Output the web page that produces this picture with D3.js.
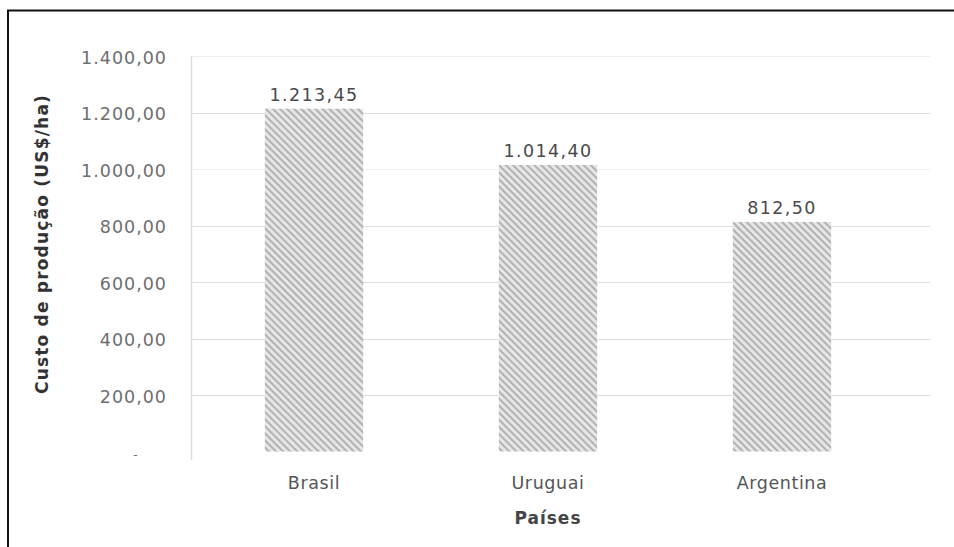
<!DOCTYPE html>
<html>
<head>
<meta charset="utf-8">
<script src="https://cdn.jsdelivr.net/npm/d3@7"></script>
<style>
  html, body { margin: 0; padding: 0; background: #fff; }
  svg { display: block; }
</style>
</head>
<body>
<svg id="chart" width="954" height="547"></svg>
<script>
// Custo de produção por país (US$/ha)
const paises = ["Brasil", "Uruguai", "Argentina"];
const custos = [1213.45, 1014.40, 812.50];
const rotulos = ["1.213,45", "1.014,40", "812,50"];
const yTicks = [0, 200, 400, 600, 800, 1000, 1200, 1400];
const yTickLabels = ["-", "200,00", "400,00", "600,00", "800,00", "1.000,00", "1.200,00", "1.400,00"];

const svg = d3.select("#chart");
const font = "'DejaVu Sans', Verdana, sans-serif";

// Frame around the figure
svg.append("rect")
  .attr("x", 8).attr("y", 10.5)
  .attr("width", 1000).attr("height", 600)
  .attr("fill", "none").attr("stroke", "#111").attr("stroke-width", 2);

// Diagonal hatch used for the bars
const defs = svg.append("defs");
const pat = defs.append("pattern")
  .attr("id", "hatch")
  .attr("patternUnits", "userSpaceOnUse")
  .attr("width", 5).attr("height", 5)
  .attr("patternTransform", "rotate(-45)");
pat.append("rect").attr("width", 5).attr("height", 5).attr("fill", "#e6e6e6");
pat.append("rect").attr("x", 0).attr("y", 0).attr("width", 2).attr("height", 5).attr("fill", "#b2b2b2");

const y = d3.scaleLinear().domain([0, 1400]).range([451.5, 56]);
const x = d3.scaleBand().domain(paises).range([197, 899]).paddingInner(0.58).paddingOuter(0.29);

const gridLeft = 191, gridRight = 930;

// Horizontal gridlines
svg.append("g")
  .selectAll("line")
  .data(yTicks.filter(d => d > 0))
  .join("line")
  .attr("x1", gridLeft).attr("x2", gridRight)
  .attr("y1", d => Math.round(y(d)) + 0.5).attr("y2", d => Math.round(y(d)) + 0.5)
  .attr("stroke", d => (d === 1000 || d === 1400) ? "#efefef" : "#dedede")
  .attr("stroke-width", 1.2);

// Vertical axis line
svg.append("line")
  .attr("x1", gridLeft + 0.5).attr("x2", gridLeft + 0.5)
  .attr("y1", 56).attr("y2", 460)
  .attr("stroke", "#dedede").attr("stroke-width", 1.5);

// Y tick labels
const yAxis = d3.axisLeft(y)
  .tickValues(yTicks)
  .tickFormat((d, i) => yTickLabels[i])
  .tickSize(0).tickPadding(0);
const gy = svg.append("g").attr("transform", "translate(167,0)").call(yAxis);
gy.select(".domain").remove();
gy.selectAll("text")
  .attr("font-family", font).attr("font-size", 17.5)
  .attr("letter-spacing", 1)
  .attr("fill", "#6e6e6e")
  .attr("dy", "0.42em");
gy.selectAll(".tick").filter(d => d === 0).select("text")
  .attr("text-anchor", "middle").attr("x", -31).attr("dy", "0.55em").attr("font-size", 12);

// Bars
svg.append("g")
  .selectAll("rect")
  .data(paises)
  .join("rect")
  .attr("x", d => x(d))
  .attr("width", x.bandwidth())
  .attr("y", (d, i) => y(custos[i]))
  .attr("height", (d, i) => y(0) - y(custos[i]))
  .attr("fill", "url(#hatch)");

// Value labels above bars
svg.append("g")
  .selectAll("text")
  .data(paises)
  .join("text")
  .attr("x", d => x(d) + x.bandwidth() / 2)
  .attr("y", (d, i) => y(custos[i]) - 8)
  .attr("text-anchor", "middle")
  .attr("font-family", font).attr("font-size", 17.5)
  .attr("letter-spacing", 1.4)
  .attr("fill", "#4a4a4a")
  .text((d, i) => rotulos[i]);

// Category labels
const xAxis = d3.axisBottom(x).tickSize(0).tickPadding(0);
const gx = svg.append("g").attr("transform", "translate(0,489)").call(xAxis);
gx.select(".domain").remove();
gx.selectAll("text")
  .attr("dy", 0)
  .attr("font-family", font).attr("font-size", 17.5)
  .attr("letter-spacing", 0.6)
  .attr("fill", "#555");

// Axis titles
svg.append("text")
  .attr("x", x("Uruguai") + x.bandwidth() / 2)
  .attr("y", 524)
  .attr("text-anchor", "middle")
  .attr("font-family", font).attr("font-size", 17).attr("font-weight", "bold")
  .attr("letter-spacing", 1)
  .attr("fill", "#444")
  .text("Países");

svg.append("text")
  .attr("transform", "translate(48,244) rotate(-90)")
  .attr("text-anchor", "middle")
  .attr("font-family", font).attr("font-size", 17).attr("font-weight", "bold")
  .attr("letter-spacing", 1.2)
  .attr("fill", "#333")
  .text("Custo de produção (US$/ha)");
</script>
</body>
</html>
